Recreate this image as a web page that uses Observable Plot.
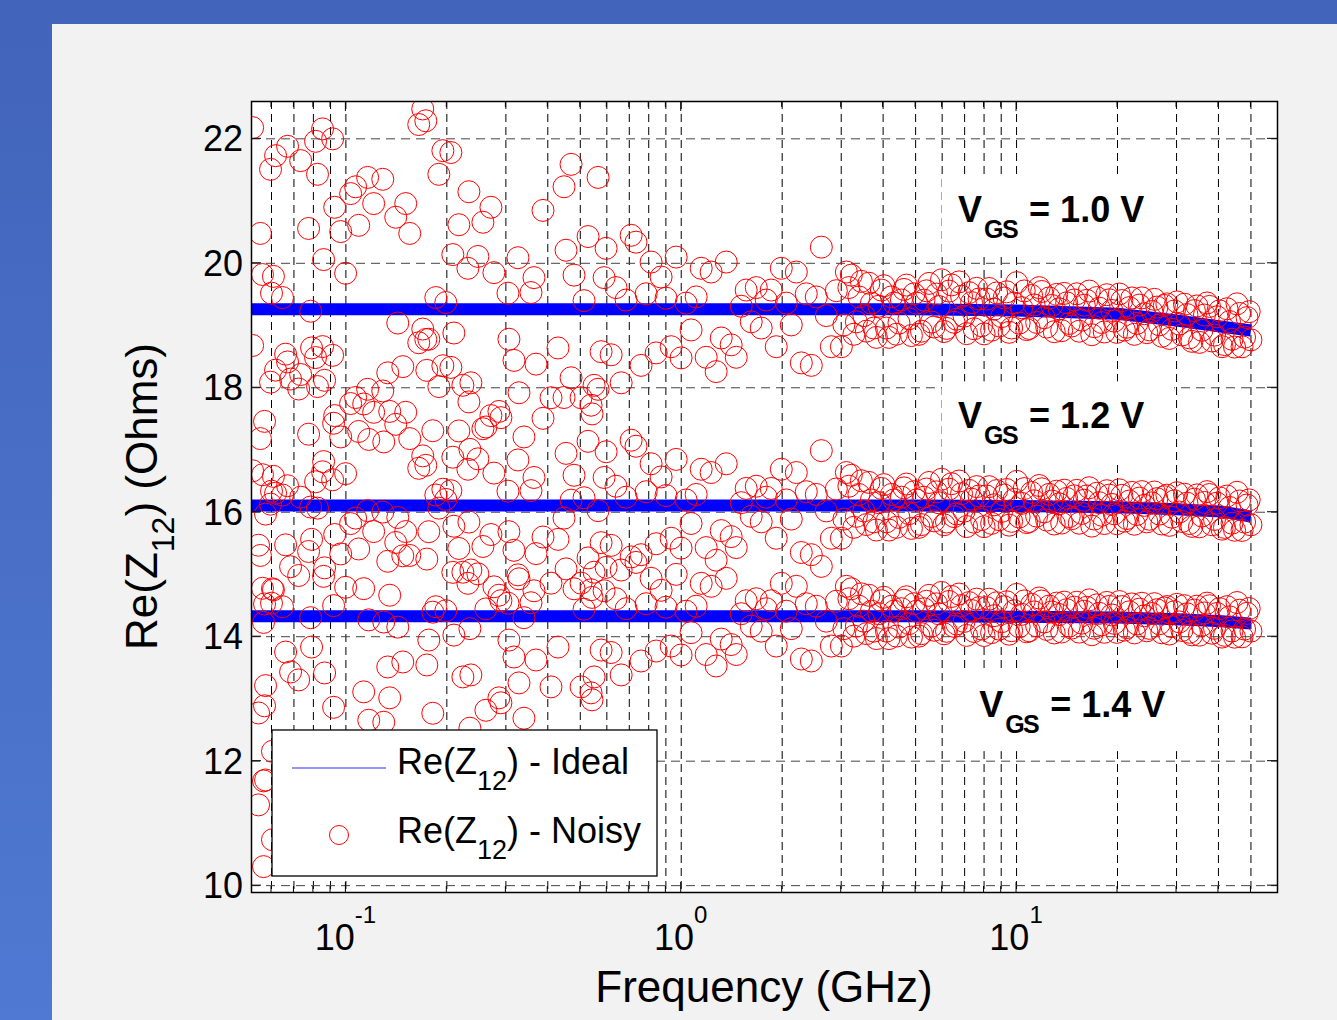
<!DOCTYPE html>
<html>
<head>
<meta charset="utf-8">
<script src="https://cdn.jsdelivr.net/npm/d3@7"></script>
<script src="https://cdn.jsdelivr.net/npm/@observablehq/plot@0.6"></script>
<style>
  html, body { margin: 0; padding: 0; background: #F2F2F2; width: 1337px; height: 1020px; overflow: hidden; }
  #topbar { position: absolute; left: 0; top: 0; width: 1337px; height: 24px; background: #4264BA; }
  #leftbar { position: absolute; left: 0; top: 0; width: 52px; height: 1020px; background: linear-gradient(#4264BA, #4F79D2); }
  #chart { position: absolute; left: 0; top: 0; }
</style>
</head>
<body>
<div id="topbar"></div>
<div id="leftbar"></div>
<div id="chart"></div>
<script>
// ---------------- data ----------------
const seriesLabels = ["1.0", "1.2", "1.4"];               // V_GS values
const idealFreq = [0.05, 5, 10, 20, 30, 41, 50];          // GHz
const ideal10 = [19.26, 19.26, 19.24, 19.19, 19.08, 18.98, 18.92];
const ideal12 = [16.11, 16.11, 16.10, 16.08, 16.05, 16.01, 15.93];
const ideal14 = [14.33, 14.33, 14.32, 14.31, 14.28, 14.25, 14.21];
// noise pattern is shared by the three curves; its size shrinks for lower-resistance curves
const noiseScale = [1, 0.88, 0.8];
// [frequency (GHz), deviation from ideal (Ohms, for the 1.0 V curve)]
const lowNoise = [
  [0.0527,2.92],[0.0549,-3.79],[0.0556,1.22],[0.0564,0.56],[0.0568,-5.03],[0.0572,-1.80],[0.0576,-3.29],
  [0.0596,2.25],[0.0600,0.26],[0.0604,-4.49],[0.0608,0.53],[0.0617,2.47],[0.0647,0.19],[0.0661,-0.72],
  [0.0670,2.62],[0.0684,-1.12],[0.0723,-1.28],[0.0733,2.39],[0.0774,1.30],[0.0785,-0.03],[0.0790,-0.62],
  [0.0812,2.70],[0.0823,2.17],[0.0852,2.90],[0.0858,0.80],[0.0864,-1.14],[0.0913,2.74],[0.0919,-1.83],
  [0.0926,1.64],[0.0965,1.25],[0.0998,0.58],[0.1033,1.86],[0.1069,1.97],[0.1092,1.35],[0.1130,-1.52],
  [0.1161,2.12],[0.1170,-2.09],[0.1210,1.70],[0.1288,2.09],[0.1297,-2.13],[0.1333,-1.02],[0.1351,-1.64],
  [0.1408,1.48],[0.1428,-0.22],[0.1478,-0.92],[0.1508,1.70],[0.1550,1.22],[0.1649,2.97],[0.1695,3.22],
  [0.1731,3.03],[0.1743,-0.98],[0.1767,-0.48],[0.1816,-1.95],[0.1854,0.19],[0.1893,2.17],[0.1946,2.55],
  [0.1986,0.11],[0.2056,2.52],[0.2084,0.88],[0.2099,-0.38],[0.2172,1.36],[0.2233,-1.22],[0.2311,0.66],
  [0.2327,1.89],[0.2343,-2.25],[0.2359,-1.18],[0.2475,0.85],[0.2562,1.40],[0.2615,-1.89],[0.2707,1.64],
  [0.2763,0.59],[0.2860,-1.64],[0.2899,-1.74],[0.3043,0.26],[0.3063,-0.48],[0.3171,-0.82],[0.3259,0.83],
  [0.3282,-1.34],[0.3396,-2.05],[0.3564,0.27],[0.3638,0.51],[0.3689,-0.88],[0.3871,1.59],[0.4089,-1.42],
  [0.4291,-0.62],[0.4472,1.97],[0.4534,0.95],[0.4693,2.33],[0.4790,0.55],[0.5027,-1.42],[0.5131,0.14],
  [0.5274,1.17],[0.5384,-1.54],[0.5421,-1.68],[0.5497,-1.22],[0.5650,2.12],[0.5768,-0.68],[0.5888,0.51]
];
const highNoise = [
  [0.597,0.98],[0.618,-0.73],[0.639,0.35],[0.662,-1.18],[0.685,0.15],[0.709,1.19],[0.733,1.08],[0.759,-0.90],
  [0.786,0.25],[0.813,0.76],[0.842,-0.70],[0.871,0.52],[0.901,0.18],[0.933,-0.60],[0.966,0.84],[0.999,-0.78],
  [1.034,0.10],[1.070,-0.33],[1.108,0.20],[1.147,0.66],[1.187,-0.77],[1.228,0.60],[1.271,-1.00],[1.316,-0.46],
  [1.362,0.76],[1.409,-0.57],[1.459,-0.77],[1.510,0.05],[1.562,0.31],[1.617,-0.20],[1.674,0.35],[1.732,-0.30],
  [1.793,0.15],[1.855,0.31],[1.920,-0.60],[1.988,0.66],[2.057,0.10],[2.129,-0.25],[2.204,0.60],[2.281,-0.86],
  [2.360,0.25],[2.443,-0.90],[2.528,0.20],[2.617,1.00],[2.708,-0.10],[2.803,-0.60],[2.901,0.30],[3.003,-0.60],
  [3.108,0.60],[3.216,0.55],[3.329,-0.20],[3.445,0.45],[3.566,-0.35],[3.690,0.10],[3.820,-0.45],[3.953,0.31],
  [4.092,-0.30],[4.235,0.20],[4.383,-0.40],[4.536,0.15],[4.695,0.39],[4.859,-0.42],[5.029,0.10],[5.205,-0.35],
  [5.387,0.30],[5.576,-0.20],[5.771,0.25],[5.973,0.48],[6.182,-0.30],[6.398,0.40],[6.622,-0.15],[6.854,0.22],
  [7.094,-0.38],[7.342,0.12],[7.599,0.35],[7.865,-0.25],[8.140,0.18],[8.425,-0.32],[8.720,0.28],[9.025,-0.10],
  [9.341,0.30],[9.668,-0.28],[10.01,0.45],[10.36,0.05],[10.72,-0.30],[11.09,0.25],[11.48,-0.18],[11.88,0.32],
  [12.30,-0.25],[12.73,0.10],[13.17,0.28],[13.63,-0.30],[14.11,0.15],[14.60,-0.22],[15.12,0.30],[15.65,-0.12],
  [16.19,0.20],[16.76,-0.35],[17.34,0.25],[17.95,-0.15],[18.58,0.30],[19.23,0.05],[19.90,-0.30],[20.60,0.22],
  [21.32,-0.20],[22.07,0.28],[22.84,-0.12],[23.64,0.30],[24.46,-0.25],[25.32,0.10],[26.21,0.18],[27.12,-0.28],
  [28.07,0.25],[29.06,-0.15],[30.07,0.30],[31.13,-0.22],[32.22,0.12],[33.34,-0.30],[34.51,0.28],[35.72,-0.10],
  [36.97,0.35],[38.26,-0.25],[39.60,0.15],[40.99,-0.32],[42.42,0.30],[43.91,-0.18],[45.44,0.40],[47.04,-0.28],
  [48.68,0.20],[50.0,-0.15]
];
// extra samples between the ones above, where the band above 3 GHz is packed
const denseNoise = [
  [3.055,-0.25],[3.162,0.35],[3.272,-0.40],[3.387,0.20],[3.505,-0.10],[3.628,0.42],[3.755,-0.30],[3.886,0.05],
  [4.022,0.38],[4.163,-0.45],[4.309,0.10],[4.459,-0.22],[4.615,0.32],[4.777,-0.15],[4.944,0.25],[5.117,-0.40],
  [5.296,0.15],[5.481,0.42],[5.673,-0.28],[5.871,0.05],[6.077,-0.35],[6.289,0.30],[6.509,-0.20],[6.737,0.45],
  [6.973,-0.10],[7.217,0.28],[7.469,-0.30],[7.731,0.18],[8.001,-0.38],[8.281,0.35],[8.571,0.02],[8.871,-0.25],
  [9.182,0.20],[9.503,-0.35],[9.836,0.12],[10.18,-0.20],[10.54,0.32],[10.91,-0.28],[11.28,0.10],[11.68,0.38],
  [12.09,-0.10],[12.51,0.22],[12.95,-0.32],[13.40,0.05],[13.87,0.30],[14.36,-0.18],[14.86,0.20],[15.38,-0.30],
  [15.92,0.12],[16.47,0.35],[17.05,-0.22],[17.64,0.08],[18.26,-0.30],[18.90,0.22],[19.56,-0.12],[20.25,0.32],
  [20.96,-0.25],[21.69,0.12],[22.45,-0.30],[23.24,0.18],[24.05,0.05],[24.89,-0.20],[25.76,0.30],[26.67,-0.10],
  [27.59,0.22],[28.56,-0.30],[29.56,0.15],[30.59,-0.05],[31.67,0.28],[32.78,-0.25],[33.92,0.20],[35.11,-0.30],
  [36.34,0.15],[37.61,0.30],[38.93,-0.15],[40.29,0.25],[41.70,-0.28],[43.16,0.10],[44.67,-0.30],[46.23,0.25],
  [47.86,-0.12],[49.40,0.30]
];
const yTicks = [10, 12, 14, 16, 18, 20, 22];
const xDecades = [0.1, 1, 10];
const xExponents = ["-1", "0", "1"];
const gridX = [0.06,0.07,0.08,0.09,0.1,0.2,0.3,0.4,0.5,0.6,0.7,0.8,0.9,1,2,3,4,5,6,7,8,9,10,20,30,40,50];
const annotAnchors = [[6.71, 20.65], [6.71, 17.34], [7.76, 12.70]];   // [GHz, Ohms] of each label start
const legendLabels = ["Ideal", "Noisy"];

(function () {
// ---------------- build tables ----------------
const ideals = [ideal10, ideal12, ideal14];
const idealData = [];
ideals.forEach((vals, k) => idealFreq.forEach((f, j) => idealData.push({series: k, f, v: vals[j]})));
const baseFns = ideals.map(vals => d3.scaleLog().domain(idealFreq).range(vals));
const samples = lowNoise.concat(highNoise, denseNoise);
const noisyData = [];
ideals.forEach((vals, k) => samples.forEach(([f, r]) => noisyData.push({series: k, f, v: baseFns[k](f) + noiseScale[k] * r})));

// ---------------- plot ----------------
const W = 1337, H = 1020;
const mL = 251, mR = 60, mT = 101, mB = 128;
const FONT = "'Liberation Sans', Arial, Helvetica, sans-serif";

const plot = Plot.plot({
  width: W, height: H,
  marginLeft: mL, marginRight: mR, marginTop: mT, marginBottom: mB,
  x: {type: "log", domain: [0.0523, 60], axis: null},
  y: {domain: [9.89, 22.6], axis: null},
  style: {background: "transparent", overflow: "visible", fontFamily: FONT},
  marks: [
    Plot.frame({fill: "white", stroke: "none"}),
    Plot.ruleX(gridX, {stroke: "#000", strokeWidth: 1, strokeDasharray: "8,5"}),
    Plot.ruleY(yTicks, {stroke: "#444", strokeWidth: 1, strokeDasharray: "9,6"}),
    Plot.line(idealData, {x: "f", y: "v", z: "series", stroke: "#0000ff", strokeWidth: 12, strokeLinecap: "butt", clip: true}),
    Plot.dot(noisyData, {x: "f", y: "v", r: 11, stroke: "#ff0000", strokeWidth: 1, fill: "none", clip: true}),
    Plot.frame({stroke: "#000", strokeWidth: 1.5})
  ]
});
document.getElementById("chart").appendChild(plot);

const svg = d3.select(plot);
const sx = plot.scale("x"), sy = plot.scale("y");
const X = v => sx.apply(v), Y = v => sy.apply(v);
const pLeft = mL, pRight = W - mR, pTop = mT, pBottom = H - mB;

// white boxes behind the V_GS annotations (hide grid, under data)
const before = plot.querySelector('g[aria-label="line"]');
const boxG = before ? svg.insert("g", () => before) : svg.append("g");
annotAnchors.forEach(([f, v]) => {
  boxG.append("rect").attr("x", X(f) - 16).attr("y", Y(v) - 47)
    .attr("width", 232).attr("height", 81).attr("fill", "white");
});

// inward ticks on all four sides
const tg = svg.append("g").attr("stroke", "#000").attr("stroke-width", 1);
gridX.forEach(f => {
  const len = xDecades.includes(f) ? 10 : 6;
  const x = X(f);
  tg.append("line").attr("x1", x).attr("x2", x).attr("y1", pBottom).attr("y2", pBottom - len);
  tg.append("line").attr("x1", x).attr("x2", x).attr("y1", pTop).attr("y2", pTop + len);
});
yTicks.forEach(v => {
  const y = Y(v);
  tg.append("line").attr("x1", pLeft).attr("x2", pLeft + 10).attr("y1", y).attr("y2", y);
  tg.append("line").attr("x1", pRight).attr("x2", pRight - 10).attr("y1", y).attr("y2", y);
});

// y tick labels
const lab = svg.append("g").attr("font-family", FONT).attr("fill", "#000");
yTicks.forEach(v => {
  lab.append("text").attr("x", pLeft - 8).attr("y", Y(v) + 13).attr("text-anchor", "end")
    .attr("font-size", 36).text(v);
});
// x tick labels 10^n
xDecades.forEach((f, i) => {
  const t = lab.append("text").attr("x", X(f)).attr("y", pBottom + 58).attr("text-anchor", "middle").attr("font-size", 36);
  t.append("tspan").text("10");
  t.append("tspan").attr("dy", -27).attr("font-size", 24).text(xExponents[i]);
});
// axis titles
lab.append("text").attr("x", (pLeft + pRight) / 2).attr("y", 1002).attr("text-anchor", "middle")
  .attr("font-size", 44).text("Frequency (GHz)");
const yt = lab.append("text").attr("transform", `translate(157,${(pTop + pBottom) / 2}) rotate(-90)`)
  .attr("text-anchor", "middle").attr("font-size", 44);
yt.append("tspan").text("Re(Z");
yt.append("tspan").attr("dy", 17).attr("font-size", 32).text("12");
yt.append("tspan").attr("dy", -17).text(") (Ohms)");

// V_GS annotations
annotAnchors.forEach(([f, v], i) => {
  const t = lab.append("text").attr("x", X(f)).attr("y", Y(v)).attr("text-anchor", "start")
    .attr("font-size", 36).attr("font-weight", "bold");
  t.append("tspan").text("V");
  t.append("tspan").attr("dy", 16).attr("font-size", 25).attr("letter-spacing", -1.5).attr("dx", 2).text("GS");
  t.append("tspan").attr("dy", -16).attr("dx", 2).text(` = ${seriesLabels[i]} V`);
});

// legend
const lg = svg.append("g").attr("font-family", FONT).attr("text-anchor", "start");
const lx = pLeft + 21, ly = pBottom - 162;
lg.append("rect").attr("x", lx).attr("y", ly).attr("width", 385).attr("height", 146)
  .attr("fill", "white").attr("stroke", "#000").attr("stroke-width", 1.3);
lg.append("line").attr("x1", lx + 20).attr("x2", lx + 114).attr("y1", ly + 38).attr("y2", ly + 38)
  .attr("stroke", "#2a2aff").attr("stroke-width", 1.2);
lg.append("circle").attr("cx", lx + 67).attr("cy", ly + 105).attr("r", 9.5)
  .attr("fill", "none").attr("stroke", "#ff0000").attr("stroke-width", 1);
legendLabels.forEach((name, i) => {
  const t = lg.append("text").attr("x", lx + 125).attr("y", ly + 44 + i * 69).attr("text-anchor", "start")
    .attr("font-size", 36).attr("fill", "#000");
  t.append("tspan").text("Re(Z");
  t.append("tspan").attr("dy", 16).attr("font-size", 27).text("12");
  t.append("tspan").attr("dy", -16).text(`) - ${name}`);
});
})();
</script>
</body>
</html>
